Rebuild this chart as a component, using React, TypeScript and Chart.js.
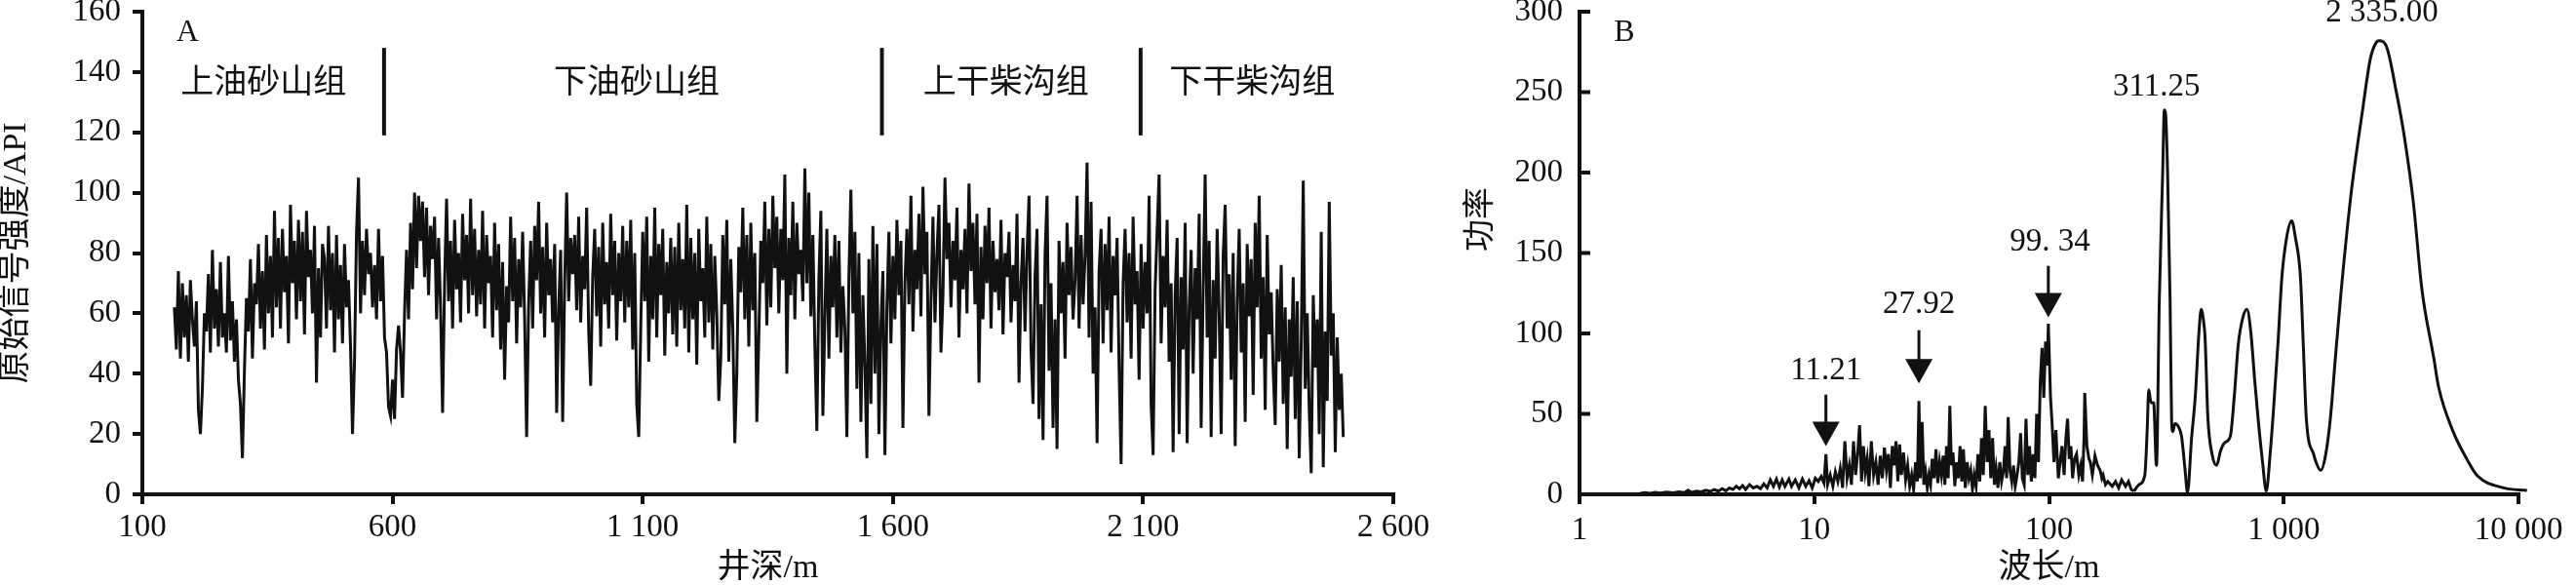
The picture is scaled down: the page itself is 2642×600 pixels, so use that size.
import React, { useEffect, useRef } from "react";
import { Chart, registerables } from "chart.js";

Chart.register(...registerables);

const FONT = '"Liberation Serif", "Times New Roman", "Noto Sans CJK SC", serif';
const INK = "#111111";

// ---------- Panel A : gamma-ray log ----------
const depthStart = 164; // m, first sample
const depthStep = 4; // m, sampling interval
const gammaValues = [
  62, 48, 74, 45, 70, 52, 66, 44, 71, 58, 49, 64, 28, 20, 35, 60, 54, 73, 47, 81, 55, 68, 49, 77, 52,
  60, 47, 79, 51, 64, 44, 58, 38, 30, 12, 41, 65, 54, 78, 45, 70, 63, 83, 55, 74, 48, 86, 60, 79, 52,
  94, 62, 85, 55, 88, 67, 79, 50, 96, 70, 84, 58, 91, 64, 87, 53, 94, 72, 81, 60, 89, 37, 75, 52, 83,
  78, 55, 89, 61, 80, 47, 86, 58, 76, 50, 83, 62, 71, 49, 20, 44, 87, 105, 60, 84, 66, 88, 73, 80, 62,
  76, 58, 88, 64, 79, 52, 47, 29, 26, 38, 25, 48, 56, 47, 32, 60, 81, 58, 90, 68, 100, 75, 99, 84, 97,
  72, 95, 66, 89, 78, 92, 58, 85, 62, 27, 70, 98, 64, 84, 55, 91, 68, 80, 57, 93, 71, 86, 60, 98, 66,
  88, 59, 81, 63, 94, 55, 86, 70, 79, 52, 90, 61, 83, 48, 77, 38, 69, 57, 92, 64, 85, 50, 78, 62, 87,
  58, 19, 63, 84, 55, 89, 71, 97, 60, 82, 52, 90, 66, 78, 57, 83, 27, 62, 81, 24, 70, 100, 64, 85, 73,
  86, 61, 92, 57, 79, 68, 95, 54, 36, 72, 88, 59, 82, 49, 90, 63, 77, 55, 93, 66, 84, 51, 80, 64, 89,
  57, 84, 62, 91, 48, 80, 30, 19, 55, 87, 64, 92, 44, 79, 58, 95, 52, 83, 66, 88, 46, 77, 60, 85, 53,
  82, 49, 90, 61, 78, 55, 96, 47, 85, 58, 80, 43, 88, 64, 75, 52, 92, 57, 83, 48, 79, 60, 31, 45, 86,
  63, 91, 44, 78, 55, 17, 40, 82, 67, 95, 58, 86, 49, 90, 61, 80, 24, 52, 84, 70, 97, 56, 88, 62, 99,
  75, 92, 60, 88, 71, 106, 40, 85, 66, 97, 58, 90, 73, 81, 64, 108, 70, 100, 59, 86, 49, 21, 71, 94, 26,
  58, 88, 45, 79, 62, 86, 52, 84, 47, 69, 55, 19, 72, 101, 60, 87, 35, 80, 24, 66, 43, 12, 78, 30, 89,
  40, 83, 20, 56, 74, 13, 62, 87, 50, 79, 58, 91, 66, 84, 22, 70, 88, 63, 99, 54, 81, 68, 93, 59, 102,
  73, 87, 26, 64, 92, 57, 80, 96, 47, 66, 105, 78, 90, 62, 84, 71, 95, 52, 81, 68, 88, 60, 103, 74, 90,
  63, 93, 37, 82, 58, 89, 70, 95, 55, 84, 67, 78, 61, 91, 53, 80, 72, 87, 57, 76, 64, 93, 37, 70, 85,
  54, 80, 99, 48, 30, 72, 88, 25, 63, 18, 79, 99, 41, 70, 22, 58, 15, 84, 60, 77, 45, 90, 66, 82, 58,
  71, 99, 55, 86, 63, 79, 110, 52, 97, 40, 62, 17, 74, 88, 50, 83, 61, 92, 47, 79, 66, 85, 42, 10, 70,
  88, 57, 80, 45, 92, 63, 74, 38, 83, 55, 77, 60, 99, 30, 13, 68, 87, 106, 50, 79, 62, 91, 44, 70, 14,
  66, 85, 20, 72, 48, 90, 17, 62, 81, 40, 75, 58, 93, 22, 68, 106, 52, 84, 19, 71, 45, 88, 60, 20, 79,
  96, 55, 73, 38, 80, 16, 64, 88, 47, 70, 24, 83, 59, 78, 33, 90, 62, 99, 45, 72, 28, 86, 53, 67, 41,
  23, 68, 44, 76, 30, 62, 15, 58, 39, 72, 25, 64, 12, 50, 104, 35, 60, 28, 7, 66, 42, 58, 20, 87, 9,
  54, 31, 97, 46, 60, 14, 52, 28, 40, 19,
];
const depthTicks = [100, 600, 1100, 1600, 2100, 2600];
const depthTickLabels = ["100", "600", "1 100", "1 600", "2 100", "2 600"];
const formationNames = ["上油砂山组", "下油砂山组", "上干柴沟组", "下干柴沟组"];
const formationLabelDepth = [342, 1088, 1826, 2318];
const formationLabelLevel = 136;
const formationBoundaries = [583, 1578, 2095];
const boundaryTopLevel = 148;
const boundaryBottomLevel = 119;
const panelAPos = [190, 153];

// ---------- Panel B : power spectrum ----------
const noiseWavelength = [
  1.8, 1.9, 2.0, 2.1, 2.2, 2.35, 2.5, 2.65, 2.8, 2.9, 3.0, 3.15, 3.3, 3.45, 3.6, 3.75, 3.9, 4.05, 4.2, 4.35,
  4.5, 4.65, 4.8, 4.95, 5.1, 5.3, 5.5, 5.7, 5.9, 6.1, 6.3, 6.5, 6.7, 6.9, 7.1, 7.3, 7.5, 7.8, 8.0, 8.3,
  8.6, 8.9, 9.2, 9.5, 9.8, 10.1, 10.4, 10.7, 11.0, 11.21, 11.4, 11.7, 12.0, 12.3, 12.6, 12.9, 13.2, 13.5, 13.8, 14.1,
  14.4, 14.7, 15.0, 15.3, 15.6, 15.9, 16.2, 16.5, 16.8, 17.1, 17.5, 17.9, 18.3, 18.7, 19.1, 19.5, 19.9, 20.3, 20.7, 21.1,
  21.5, 21.9, 22.3, 22.7, 23.1, 23.5, 24.0, 24.5, 25.0, 25.5, 26.0, 26.5, 27.0, 27.5, 27.92, 28.3, 28.8, 29.3, 29.8, 30.3,
  30.8, 31.3, 31.8, 32.4, 33.0, 33.6, 34.2, 34.8, 35.4, 36.0, 36.6, 37.2, 37.8, 38.4, 39.0, 39.7, 40.4, 41.1, 41.8, 42.5,
  43.2, 44.0, 44.8, 45.6, 46.4, 47.2, 48.0, 48.9, 49.8, 50.7, 51.6, 52.5, 53.5, 54.5, 55.5, 56.5, 57.5, 58.5, 59.5, 60.6,
  61.7, 62.8, 63.9, 65.0, 66.0, 67.0, 68.2, 69.4, 70.6, 71.8, 73.1, 74.4, 75.7, 77.0, 78.4, 79.8, 81.2, 82.6, 84.1, 85.6,
  87.1, 88.6, 90.2, 91.8, 93.4, 95.0, 96.7, 98.4, 99.34, 101.5, 103, 105, 107, 109.6, 111.5, 113.6, 116, 118, 120, 122,
  124, 126, 128.5, 131, 134, 136.5, 139, 141, 142, 145, 148, 150, 153, 157, 161, 165, 168, 170, 174, 178,
  186, 192, 198, 204, 212, 218, 224, 230,
];
const noisePower = [
  0.5, 1, 0.6, 1.2, 0.8, 1.3, 0.9, 1.5, 1, 2.5, 1.2, 2, 1.5, 2.5, 1.8, 3, 2, 3.5, 2.2, 4,
  3, 5, 3.5, 5.5, 3, 6, 4, 5, 3.5, 6.5, 4, 9, 5, 9.5, 4.5, 9, 5, 9.5, 5, 9,
  4, 9.5, 5, 8.5, 4, 10, 8, 11, 7, 25, 6, 12, 5, 14, 8, 16, 4, 33, 10, 18,
  6, 33, 12, 25, 43, 8, 30, 14, 22, 5, 33, 12, 20, 6, 24, 10, 29, 15, 25, 4,
  30, 18, 33, 8, 31, 12, 26, 9, 18, 5, 12, 3, 20, 8, 58, 10, 45, 6, 14, 4,
  12, 6, 22, 10, 28, 7, 20, 12, 24, 6, 30, 10, 55, 18, 26, 5, 20, 10, 30, 8,
  28, 4, 20, 10, 15, 3, 12, 5, 25, 8, 35, 12, 55, 20, 40, 10, 35, 6, 16, 4,
  20, 8, 14, 30, 10, 48, 15, 8, 18, 5, 12, 20, 38, 10, 6, 47, 12, 30, 8, 25,
  10, 50, 20, 70, 91, 60, 95, 80, 106, 60, 45, 20, 40, 10, 20, 30, 12, 35, 47, 22,
  30, 10, 22, 25, 12, 18, 8, 35, 63, 30, 22, 20, 12, 24, 18, 15, 10, 12, 6, 8,
  5, 8, 4, 9, 5, 8, 3, 2,
];
const smoothWavelength = [
  230, 242, 256, 262, 266, 272, 279, 287, 295, 305, 310, 314, 320, 328, 333, 337, 344, 356, 367, 380,
  389, 405, 420, 435, 445, 455, 462, 475, 495, 518, 538, 560, 592, 615, 640, 670, 697, 725, 752, 780,
  811, 843, 875, 901, 946, 982, 1030, 1081, 1120, 1178, 1210, 1247, 1340, 1439, 1510, 1582, 1660, 1758, 1933, 2168,
  2340, 2480, 2552, 2728, 3028, 3267, 3562, 3881, 4354, 4564, 5268, 6023, 6685, 8649, 10870,
];
const smoothPower = [
  2, 6, 12, 40, 65, 57, 57, 18, 120, 200, 239, 236, 200, 120, 45, 39, 44, 42, 36, 15,
  1, 35, 61, 100, 115, 108, 98, 48, 25, 18, 27, 32, 36, 60, 93, 110, 115, 100, 71, 45,
  21, 2, 25, 49, 95, 135, 160, 170, 160, 135, 95, 48, 25, 15, 25, 48, 85, 127, 186, 239,
  271, 281, 282, 279, 249, 222, 182, 127, 85, 67, 39, 22, 11.5, 4, 2.4,
];
const wavelengthTicks = [1, 10, 100, 1000, 10000];
const wavelengthTickLabels = ["1", "10", "100", "1 000", "10 000"];
const peakLabels = ["11.21", "27.92", "99. 34", "311.25", "2 335.00"];
const peakLabelX = [11.21, 27.92, 101, 287, 2624];
const peakLabelY = [77, 118, 157, 253, 299];
const arrowX = [11.21, 27.92, 99.34];
const arrowTop = [62, 102, 142];
const arrowTip = [30, 69, 110];
const panelBPos = [1.55, 287];

const tickFont = { family: FONT, size: 33 };

const annotA = {
  id: "annotA",
  afterDraw(chart: any) {
    const { ctx } = chart;
    const x = chart.scales.x;
    const y = chart.scales.y;
    ctx.save();
    ctx.strokeStyle = INK;
    ctx.lineWidth = 4;
    formationBoundaries.forEach((d) => {
      const px = x.getPixelForValue(d);
      ctx.beginPath();
      ctx.moveTo(px, y.getPixelForValue(boundaryTopLevel));
      ctx.lineTo(px, y.getPixelForValue(boundaryBottomLevel));
      ctx.stroke();
    });
    ctx.fillStyle = INK;
    ctx.textAlign = "center";
    ctx.textBaseline = "middle";
    ctx.font = `34px ${FONT}`;
    formationNames.forEach((n, i) => {
      ctx.fillText(n, x.getPixelForValue(formationLabelDepth[i]), y.getPixelForValue(formationLabelLevel));
    });
    ctx.font = `32px ${FONT}`;
    ctx.fillText("A", x.getPixelForValue(panelAPos[0]), y.getPixelForValue(panelAPos[1]));
    ctx.restore();
  },
};

const annotB = {
  id: "annotB",
  afterDraw(chart: any) {
    const { ctx } = chart;
    const x = chart.scales.x;
    const y = chart.scales.y;
    ctx.save();
    // inward y ticks
    ctx.strokeStyle = INK;
    ctx.lineWidth = 4;
    y.ticks.forEach((t: any) => {
      const py = y.getPixelForValue(t.value);
      ctx.beginPath();
      ctx.moveTo(chart.chartArea.left, py);
      ctx.lineTo(chart.chartArea.left + 11, py);
      ctx.stroke();
    });
    // arrows
    ctx.fillStyle = INK;
    ctx.lineWidth = 3;
    arrowX.forEach((w, i) => {
      const px = x.getPixelForValue(w);
      const top = y.getPixelForValue(arrowTop[i]);
      const tip = y.getPixelForValue(arrowTip[i]);
      const headH = 25;
      const headW = 14;
      ctx.beginPath();
      ctx.moveTo(px, top);
      ctx.lineTo(px, tip - headH + 2);
      ctx.stroke();
      ctx.beginPath();
      ctx.moveTo(px - headW, tip - headH);
      ctx.lineTo(px + headW, tip - headH);
      ctx.lineTo(px, tip);
      ctx.closePath();
      ctx.fill();
    });
    ctx.textAlign = "center";
    ctx.textBaseline = "middle";
    ctx.font = `33px ${FONT}`;
    peakLabels.forEach((s, i) => {
      ctx.fillText(s, x.getPixelForValue(peakLabelX[i]), y.getPixelForValue(peakLabelY[i]));
    });
    ctx.font = `32px ${FONT}`;
    ctx.fillText("B", x.getPixelForValue(panelBPos[0]), y.getPixelForValue(panelBPos[1]));
    // y axis title
    ctx.save();
    ctx.translate(39, 225);
    ctx.rotate(-Math.PI / 2);
    ctx.font = `33px ${FONT}`;
    ctx.fillText("功率", 0, 0);
    ctx.restore();
    ctx.restore();
  },
};

function axisGrid(drawTicks: boolean) {
  return { drawOnChartArea: false, drawTicks, tickLength: 10, lineWidth: 4, color: INK };
}
const axisBorder = { display: true, width: 4, color: INK };

export default function App() {
  const refA = useRef<HTMLCanvasElement>(null);
  const refB = useRef<HTMLCanvasElement>(null);

  useEffect(() => {
    Chart.defaults.font.family = FONT;
    Chart.defaults.color = INK;

    const chartA = new Chart(refA.current as HTMLCanvasElement, {
      type: "line",
      data: {
        datasets: [
          {
            data: gammaValues.map((v, i) => ({ x: depthStart + i * depthStep, y: v })),
            borderColor: INK,
            borderWidth: 3,
            pointRadius: 0,
            tension: 0,
            fill: false,
          },
        ],
      },
      options: {
        responsive: false,
        animation: false,
        devicePixelRatio: 1,
        events: [],
        layout: { padding: { left: 0, top: 12, right: 51, bottom: 0 } },
        plugins: { legend: { display: false }, tooltip: { enabled: false } },
        scales: {
          x: {
            type: "linear",
            min: 100,
            max: 2600,
            afterBuildTicks: (s: any) => {
              s.ticks = depthTicks.map((v) => ({ value: v }));
            },
            ticks: {
              callback: (_v: any, i: number) => depthTickLabels[i],
              font: tickFont,
              color: INK,
              padding: 5,
              maxRotation: 0,
              autoSkip: false,
            },
            grid: axisGrid(true),
            border: axisBorder,
            title: { display: true, text: "井深/m", font: { family: FONT, size: 34, lineHeight: 1 }, color: INK, padding: 0 },
            afterFit: (s: any) => {
              s.height = 93;
              s.paddingLeft = 0;
              s.paddingRight = 0;
            },
          },
          y: {
            min: 0,
            max: 160,
            ticks: { stepSize: 20, font: tickFont, color: INK, padding: 12 },
            grid: axisGrid(true),
            border: axisBorder,
            title: {
              display: true,
              text: "原始信号强度/API",
              font: { family: FONT, size: 34, lineHeight: 1 },
              color: INK,
              padding: 0,
            },
            afterFit: (s: any) => {
              s.width = 146;
              s.paddingTop = 0;
              s.paddingBottom = 0;
            },
          },
        },
      } as any,
      plugins: [annotA],
    });

    const chartB = new Chart(refB.current as HTMLCanvasElement, {
      type: "line",
      data: {
        datasets: [
          {
            data: noiseWavelength.map((w, i) => ({ x: w, y: noisePower[i] })),
            borderColor: INK,
            borderWidth: 3,
            pointRadius: 0,
            tension: 0,
            fill: false,
          },
          {
            data: smoothWavelength.map((w, i) => ({ x: w, y: smoothPower[i] })),
            borderColor: INK,
            borderWidth: 3,
            pointRadius: 0,
            cubicInterpolationMode: "monotone",
            fill: false,
            clip: false,
          },
        ],
      },
      options: {
        responsive: false,
        animation: false,
        devicePixelRatio: 1,
        events: [],
        layout: { padding: { left: 0, top: 12, right: 59, bottom: 0 } },
        plugins: { legend: { display: false }, tooltip: { enabled: false } },
        scales: {
          x: {
            type: "logarithmic",
            min: 1,
            max: 10000,
            afterBuildTicks: (s: any) => {
              s.ticks = wavelengthTicks.map((v) => ({ value: v }));
            },
            ticks: {
              callback: (_v: any, i: number) => wavelengthTickLabels[i],
              font: tickFont,
              color: INK,
              padding: 8,
              maxRotation: 0,
              autoSkip: false,
            },
            grid: axisGrid(true),
            border: axisBorder,
            title: { display: true, text: "波长/m", font: { family: FONT, size: 34, lineHeight: 1 }, color: INK, padding: 0 },
            afterFit: (s: any) => {
              s.height = 93;
              s.paddingLeft = 0;
              s.paddingRight = 0;
            },
          },
          y: {
            min: 0,
            max: 300,
            ticks: { stepSize: 50, font: tickFont, color: INK, padding: 17 },
            grid: axisGrid(false),
            border: axisBorder,
            afterFit: (s: any) => {
              s.width = 140;
              s.paddingTop = 0;
              s.paddingBottom = 0;
            },
          },
        },
      } as any,
      plugins: [annotB],
    });

    return () => {
      chartA.destroy();
      chartB.destroy();
    };
  }, []);

  return (
    <div style={{ position: "absolute", left: 0, top: 0, width: 2642, height: 600, background: "#fff" }}>
      <canvas ref={refA} width={1480} height={600} style={{ position: "absolute", left: 0, top: 0 }} />
      <canvas ref={refB} width={1162} height={600} style={{ position: "absolute", left: 1480, top: 0 }} />
    </div>
  );
}
